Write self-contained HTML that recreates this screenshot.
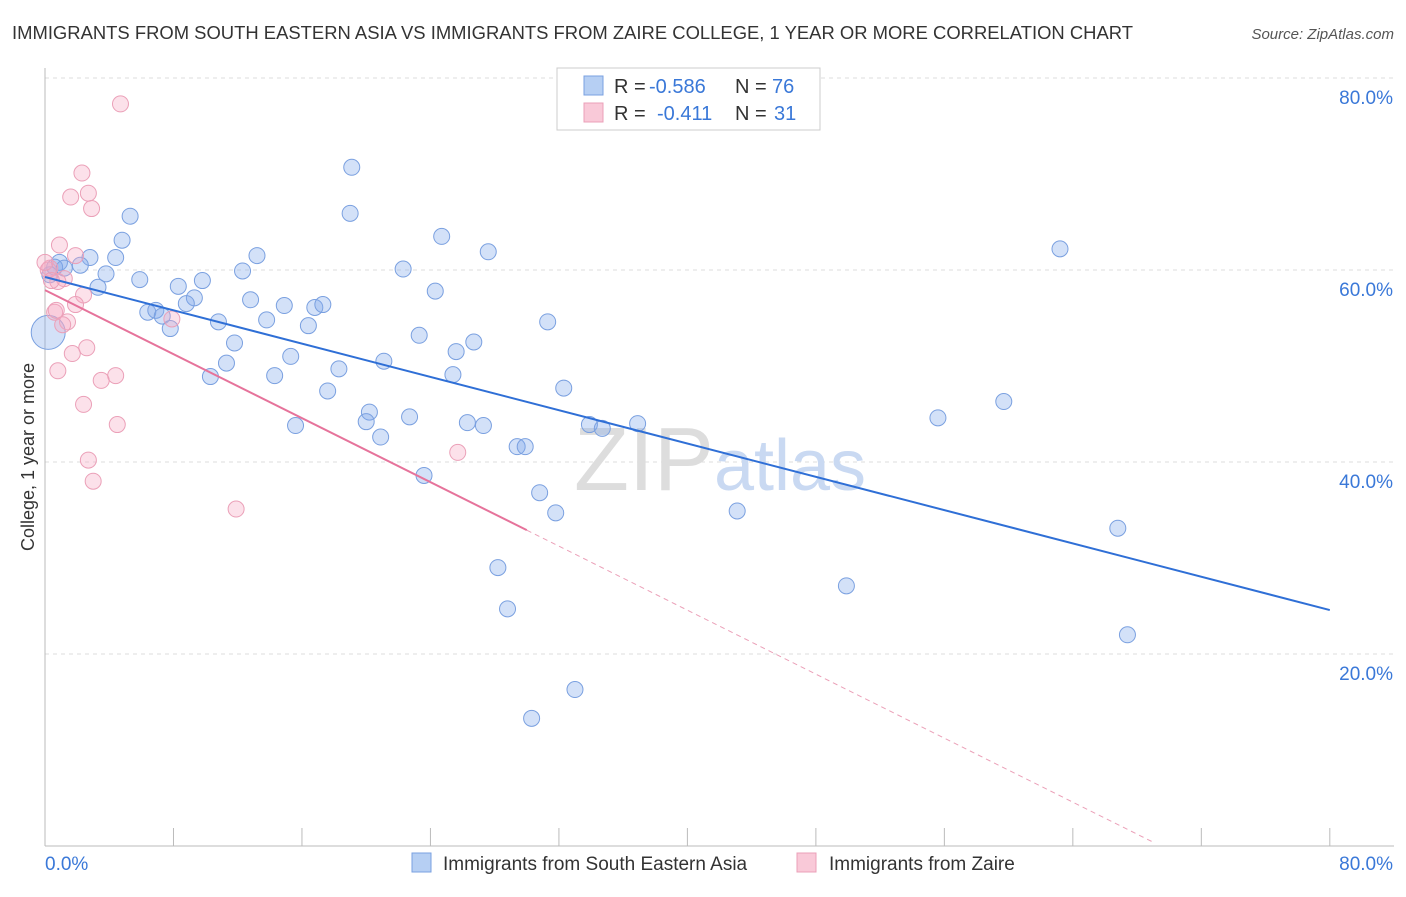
<!DOCTYPE html>
<html><head><meta charset="utf-8"><style>
body{margin:0;background:#fff;font-family:"Liberation Sans",sans-serif}
svg text{font-family:"Liberation Sans",sans-serif}
</style></head><body>
<svg id="chart" width="1406" height="892" xmlns="http://www.w3.org/2000/svg">
<text x="12" y="39" font-size="18" fill="#333" textLength="1121" lengthAdjust="spacingAndGlyphs">IMMIGRANTS FROM SOUTH EASTERN ASIA VS IMMIGRANTS FROM ZAIRE COLLEGE, 1 YEAR OR MORE CORRELATION CHART</text>
<text x="1394" y="39" font-size="15" fill="#555" text-anchor="end" font-style="italic">Source: ZipAtlas.com</text>
<g id="grid"></g>
<text x="720" y="490" font-size="90" fill="#ddd" text-anchor="middle" font-family="Liberation Serif">ZIP<tspan fill="#c9d9f2" font-family="Liberation Sans" font-size="72">atlas</tspan></text>
<g id="marks"></g>
<text transform="translate(34,457) rotate(-90)" font-size="18" fill="#333" text-anchor="middle">College, 1 year or more</text>
<g>
<rect x="557" y="68" width="263" height="62" fill="#fff" stroke="#ccc"/>
<rect x="584" y="76" width="19" height="19" fill="#b6cff3" stroke="#7aa0e0"/>
<text x="614" y="93" font-size="20" fill="#333">R =</text>
<text x="649" y="93" font-size="20" fill="#3a78d8">-0.586</text>
<text x="735" y="93" font-size="20" fill="#333">N =</text>
<text x="772" y="93" font-size="20" fill="#3a78d8">76</text>
<rect x="584" y="103" width="19" height="19" fill="#f9c9d8" stroke="#eba0b8"/>
<text x="614" y="120" font-size="20" fill="#333">R =</text>
<text x="657" y="120" font-size="20" fill="#3a78d8">-0.411</text>
<text x="735" y="120" font-size="20" fill="#333">N =</text>
<text x="774" y="120" font-size="20" fill="#3a78d8">31</text>
</g>
<g>
<rect x="412" y="853" width="19" height="19" fill="#b6cff3" stroke="#7aa0e0"/>
<text x="443" y="870" font-size="19" fill="#333">Immigrants from South Eastern Asia</text>
<rect x="797" y="853" width="19" height="19" fill="#f9c9d8" stroke="#eba0b8"/>
<text x="829" y="870" font-size="19" fill="#333">Immigrants from Zaire</text>
</g>
</svg>
<script>
const yTicks=[20,40,60,80];
const xTickLabels=["0.0%","80.0%"];
const blueX=[19.1,19.0,5.3,4.8,24.7,27.6,63.2,13.2,4.4,2.8,0.9,2.2,3.8,5.9,12.3,22.3,9.8,8.3,3.3,9.3,8.8,12.8,14.9,16.8,17.3,24.3,6.4,6.9,7.3,10.8,13.8,16.4,31.3,7.8,23.3,11.8,26.7,25.6,15.3,21.1,11.3,18.3,10.3,14.3,25.4,17.6,32.3,59.7,55.6,22.7,20.2,20.0,15.6,26.3,27.3,33.9,34.7,36.9,20.9,29.4,29.9,23.6,30.8,31.8,43.1,66.8,28.2,49.9,28.8,67.4,33.0,30.3,0.2,0.6,0.3,1.2];
const blueY=[70.7,65.9,65.6,63.1,63.5,61.9,62.2,61.5,61.3,61.3,60.8,60.5,59.6,59.0,59.9,60.1,58.9,58.3,58.2,57.1,56.5,56.9,56.3,56.1,56.4,57.8,55.6,55.8,55.2,54.6,54.8,54.2,54.6,53.9,53.2,52.4,52.5,51.5,51.0,50.5,50.3,49.7,48.9,49.0,49.1,47.4,47.7,46.3,44.6,44.7,45.2,44.2,43.8,44.1,43.8,43.9,43.5,44.0,42.6,41.6,41.6,38.6,36.8,34.7,34.9,33.1,29.0,27.1,24.7,22.0,16.3,13.3,53.5,60.3,59.5,60.2];
const blueR=[8,8,8,8,8,8,8,8,8,8,8,8,8,8,8,8,8,8,8,8,8,8,8,8,8,8,8,8,8,8,8,8,8,8,8,8,8,8,8,8,8,8,8,8,8,8,8,8,8,8,8,8,8,8,8,8,8,8,8,8,8,8,8,8,8,8,8,8,8,8,8,8,17,8,8,8];
const pinkX=[4.7,2.3,1.6,2.7,2.9,0.9,1.9,0.3,1.2,0.8,2.4,1.9,0.6,7.9,0.7,1.4,1.1,2.6,1.7,0.8,4.4,3.5,2.4,4.5,2.7,3.0,11.9,25.7,0.2,0.4,0.0];
const pinkY=[77.3,70.1,67.6,68.0,66.4,62.6,61.5,60.2,59.1,58.8,57.4,56.4,55.6,54.9,55.8,54.6,54.3,51.9,51.3,49.5,49.0,48.5,46.0,43.9,40.2,38.0,35.1,41.0,60.0,58.9,60.8];
const blueLine=[0,59.27,80,24.58];
const pinkLine=[0,57.9,30.0,32.9];
const pinkDashEnd=69.1;
const X=v=>45+v*16.06, Y=v=>846-v*9.6;
const NS="http://www.w3.org/2000/svg";
const g=document.getElementById('grid'), m=document.getElementById('marks');
function mk(tag,attrs,parent){const e=document.createElementNS(NS,tag);for(const k in attrs)e.setAttribute(k,attrs[k]);parent.appendChild(e);return e;}
yTicks.forEach(t=>{
 const l=mk('line',{x1:45,x2:1394,y1:Y(t),y2:Y(t),stroke:'#ddd','stroke-dasharray':'4,4'},g);
 
 
 const tx=mk('text',{x:1393,y:Y(t)+26,'font-size':19,fill:'#3a78d8','text-anchor':'end'},g);
 tx.textContent=t.toFixed(1)+'%';
 
 
});
const ax=mk('line',{x1:45,x2:1394,y1:846,y2:846,stroke:'#bbb'},g);


const ay=mk('line',{x1:45,x2:45,y1:68,y2:846,stroke:'#bbb'},g);


for(let i=0;i<=80;i+=8){
 const t=mk('line',{x1:X(i),x2:X(i),y1:828,y2:846,stroke:'#bbb'},g);
 
 
}
[[0,'start'],[80,'end']].forEach((p,i)=>{
 const tx=mk('text',{x:p[0]==0?45:1393,y:870,'font-size':19,fill:'#3a78d8','text-anchor':p[1]},g);
 tx.textContent=xTickLabels[i];
 
 
});
blueX.forEach((v,i)=>{
 const c=mk('circle',{cx:X(v),cy:Y(blueY[i]),r:blueR[i],fill:'rgba(130,170,235,0.35)',stroke:'#7aa0e0','stroke-width':1},m);
 
 
});
pinkX.forEach((v,i)=>{
 const c=mk('circle',{cx:X(v),cy:Y(pinkY[i]),r:8,fill:'rgba(245,170,195,0.35)',stroke:'#eba0b8','stroke-width':1},m);
 
 
});
const bl=mk('line',{x1:X(blueLine[0]),y1:Y(blueLine[1]),x2:X(blueLine[2]),y2:Y(blueLine[3]),stroke:'#2f6fd6','stroke-width':2},m);


const slope=(pinkLine[3]-pinkLine[1])/(pinkLine[2]-pinkLine[0]);
const pl=mk('line',{x1:X(pinkLine[0]),y1:Y(pinkLine[1]),x2:X(pinkLine[2]),y2:Y(pinkLine[3]),stroke:'#e6739b','stroke-width':2},m);


const pd=mk('line',{x1:X(pinkLine[2]),y1:Y(pinkLine[3]),x2:X(pinkDashEnd),y2:Y(pinkLine[1]+slope*pinkDashEnd),stroke:'#eba0b8','stroke-width':1,'stroke-dasharray':'5,4'},m);


</script>
</body></html>
